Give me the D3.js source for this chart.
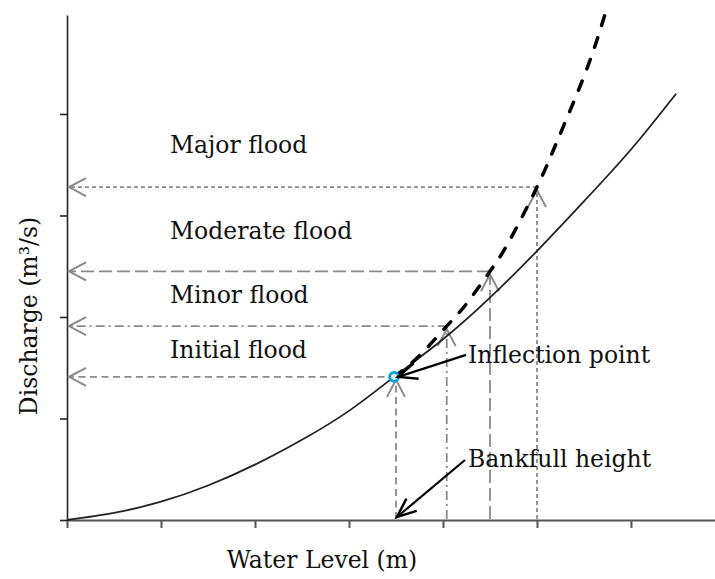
<!DOCTYPE html>
<html>
<head>
<meta charset="utf-8">
<script src="https://cdn.jsdelivr.net/npm/d3@7"></script>
<style>
  body { margin: 0; background: #fff; }
  svg { display: block; font-family: "Palatino Linotype", "Book Antiqua", Palatino, "DejaVu Serif", serif; }
</style>
</head>
<body>
<svg width="715" height="579"></svg>
<script>
// rating curve, water level vs discharge (no units on the axes)
const levels = [0, 0.5, 1, 1.5, 2, 2.5, 3, 3.48, 4, 4.5, 5, 5.5, 6, 6.48];
const discharge = [0, 0.07, 0.18, 0.34, 0.545, 0.79, 1.075, 1.41, 1.78, 2.19, 2.65, 3.14, 3.65, 4.2];

// extrapolated curve above the inflection point
const extLevels = [3.48, 3.75, 4.04, 4.25, 4.5, 4.7, 5, 5.2, 5.4, 5.58, 5.72];
const extDischarge = [1.41, 1.62, 1.91, 2.13, 2.45, 2.74, 3.28, 3.7, 4.14, 4.57, 4.97];

// flood thresholds
const floodNames = ['Initial flood', 'Minor flood', 'Moderate flood', 'Major flood'];
const floodLevels = [3.5, 4.04, 4.5, 5];
const floodDischarge = [1.41, 1.91, 2.45, 3.28];

const inflection = { level: 3.48, discharge: 1.41 };

const xTicks = [0, 1, 2, 3, 4, 5, 6];
const yTicks = [0, 1, 2, 3, 4];

const svg = d3.select('svg');

const x = d3.scaleLinear().domain([0, 6.894]).range([67, 715]);
const y = d3.scaleLinear().domain([0, 4.975]).range([520, 15]);

const grey = '#8a8a8a';

// markers
const defs = svg.append('defs');
defs.append('marker')
  .attr('id', 'chev-grey')
  .attr('viewBox', '-22 -12 26 24')
  .attr('markerUnits', 'userSpaceOnUse')
  .attr('markerWidth', 26).attr('markerHeight', 24)
  .attr('refX', 0).attr('refY', 0)
  .attr('orient', 'auto')
  .append('path')
  .attr('d', 'M-17,-9L0,0L-17,9')
  .attr('fill', 'none')
  .attr('stroke', grey)
  .attr('stroke-width', 2);

defs.append('marker')
  .attr('id', 'chev-black')
  .attr('viewBox', '-24 -12 28 24')
  .attr('markerUnits', 'userSpaceOnUse')
  .attr('markerWidth', 28).attr('markerHeight', 24)
  .attr('refX', 0).attr('refY', 0)
  .attr('orient', 'auto')
  .append('path')
  .attr('d', 'M-19,-8L0,0L-19,8')
  .attr('fill', 'none')
  .attr('stroke', '#000')
  .attr('stroke-width', 2.5);

// axes
const xAxis = svg.append('g')
  .attr('transform', 'translate(0,520)')
  .call(d3.axisBottom(x).tickValues(xTicks).tickSize(8).tickSizeOuter(0).tickFormat(''));
xAxis.selectAll('path, line').attr('stroke', '#555').attr('stroke-width', 2);

const yAxis = svg.append('g')
  .attr('transform', 'translate(67,0)')
  .call(d3.axisLeft(y).tickValues(yTicks).tickSize(7).tickSizeOuter(0).tickFormat(''));
yAxis.selectAll('path, line').attr('stroke', '#222').attr('stroke-width', 1.6);

// flood reference lines
const dashes = ['7,4.5', '9,4,2,4', '13,5', '4,3'];

floodNames.forEach((name, i) => {
  const fx = x(floodLevels[i]);
  const fy = y(floodDischarge[i]);
  // vertical: from the x axis up to the curve
  svg.append('line')
    .attr('x1', fx).attr('y1', 519)
    .attr('x2', fx).attr('y2', fy + 3)
    .attr('stroke', grey).attr('stroke-width', 1.8)
    .attr('stroke-dasharray', dashes[i])
    .attr('marker-end', 'url(#chev-grey)');
  // horizontal: from the curve to the discharge axis
  svg.append('line')
    .attr('x1', fx).attr('y1', fy)
    .attr('x2', 69).attr('y2', fy)
    .attr('stroke', grey).attr('stroke-width', 1.8)
    .attr('stroke-dasharray', dashes[i])
    .attr('marker-end', 'url(#chev-grey)');
});

// curves
const line = d3.line()
  .x(d => x(d[0]))
  .y(d => y(d[1]))
  .curve(d3.curveNatural);

svg.append('path')
  .attr('d', line(levels.map((l, i) => [l, discharge[i]])))
  .attr('fill', 'none')
  .attr('stroke', '#222')
  .attr('stroke-width', 1.8);

svg.append('path')
  .attr('d', line(extLevels.map((l, i) => [l, extDischarge[i]])))
  .attr('fill', 'none')
  .attr('stroke', '#000')
  .attr('stroke-width', 3.5)
  .attr('stroke-linecap', 'round')
  .attr('stroke-dasharray', '10,13');

// inflection point
const ix = x(inflection.level);
const iy = y(inflection.discharge);
svg.append('circle')
  .attr('cx', ix).attr('cy', iy).attr('r', 4.5)
  .attr('fill', '#e4e4e4')
  .attr('stroke', '#00a3e0')
  .attr('stroke-width', 2.8);

// annotation arrows
svg.append('line')
  .attr('x1', ix + 72).attr('y1', iy - 22)
  .attr('x2', ix + 4).attr('y2', iy)
  .attr('stroke', '#000').attr('stroke-width', 2.2)
  .attr('marker-end', 'url(#chev-black)');

svg.append('line')
  .attr('x1', x(3.5) + 69).attr('y1', y(0) - 60)
  .attr('x2', x(3.5) + 1).attr('y2', y(0) - 3)
  .attr('stroke', '#000').attr('stroke-width', 2.2)
  .attr('marker-end', 'url(#chev-black)');

// text
const fontSize = 23.5;
const labelOffsets = [19, 23, 32, 34];
floodNames.forEach((name, i) => {
  svg.append('text')
    .attr('x', 170)
    .attr('y', y(floodDischarge[i]) - labelOffsets[i])
    .attr('font-size', fontSize)
    .attr('fill', '#111')
    .text(name);
});

svg.append('text')
  .attr('x', 468).attr('y', 363)
  .attr('font-size', fontSize).attr('fill', '#111')
  .text('Inflection point');

svg.append('text')
  .attr('x', 468).attr('y', 467)
  .attr('font-size', fontSize).attr('fill', '#111')
  .text('Bankfull height');

svg.append('text')
  .attr('x', 322).attr('y', 568)
  .attr('text-anchor', 'middle')
  .attr('font-size', fontSize).attr('fill', '#111')
  .text('Water Level (m)');

svg.append('text')
  .attr('transform', 'translate(37,316) rotate(-90)')
  .attr('text-anchor', 'middle')
  .attr('font-size', fontSize).attr('fill', '#111')
  .text('Discharge (m³/s)');
</script>
</body>
</html>
